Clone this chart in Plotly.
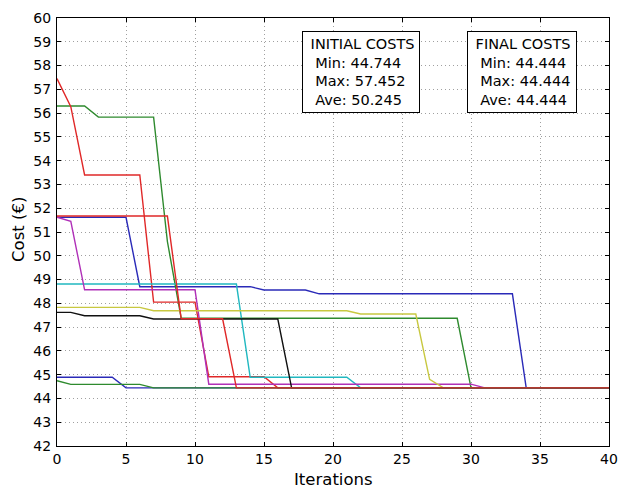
import plotly.graph_objects as go

# Breakpoints of each run's cost curve (iteration, cost)
run1_x = [0, 5, 6, 14, 15, 18, 19, 33, 34, 40]
run1_y = [51.62, 51.62, 48.70, 48.70, 48.56, 48.56, 48.40, 48.40, 44.444, 44.444]
run2_x = [0, 2, 3, 7, 8, 9, 29, 30, 40]
run2_y = [56.30, 56.30, 55.83, 55.83, 50.60, 47.37, 47.37, 44.444, 44.444]
run3_x = [0, 1, 2, 6, 7, 10, 11, 15, 16, 40]
run3_y = [57.452, 56.27, 53.40, 53.40, 48.05, 48.05, 44.91, 44.91, 44.444, 44.444]
run4_x = [0, 13, 14, 21, 22, 40]
run4_y = [48.81, 48.81, 44.89, 44.89, 44.444, 44.444]
run5_x = [0, 1, 2, 10, 11, 30, 31, 40]
run5_y = [51.62, 51.45, 48.57, 48.57, 44.60, 44.60, 44.444, 44.444]
run6_x = [0, 6, 7, 21, 22, 26, 27, 28, 40]
run6_y = [47.83, 47.83, 47.69, 47.69, 47.55, 47.55, 44.80, 44.444, 44.444]
run7_x = [0, 1, 2, 6, 7, 16, 17, 40]
run7_y = [47.62, 47.62, 47.48, 47.48, 47.34, 47.34, 44.444, 44.444]
run8_x = [0, 4, 5, 40]
run8_y = [44.89, 44.89, 44.444, 44.444]
run9_x = [0, 1, 6, 7, 40]
run9_y = [44.744, 44.59, 44.59, 44.444, 44.444]
run10_x = [0, 8, 9, 12, 13, 40]
run10_y = [51.67, 51.67, 47.35, 47.35, 44.444, 44.444]

runs = [(run1_x, run1_y), (run2_x, run2_y), (run3_x, run3_y), (run4_x, run4_y),
        (run5_x, run5_y), (run6_x, run6_y), (run7_x, run7_y), (run8_x, run8_y),
        (run9_x, run9_y), (run10_x, run10_y)]
colors = ["#2a2ab8", "#2e8a2e", "#e02828", "#20b8c0", "#b030b8", "#c8c840",
          "#101010", "#2a2ab8", "#2e8a2e", "#e02828"]

initial_lines = ["INITIAL COSTS", "Min: 44.744", "Max: 57.452", "Ave: 50.245"]
final_lines = ["FINAL COSTS", "Min: 44.444", "Max: 44.444", "Ave: 44.444"]


def box_text(lines):
    return "<br>".join(["&nbsp;" + lines[0]] + ["&nbsp;&nbsp;" + s for s in lines[1:]])


x_ticks = list(range(0, 41, 5))
y_ticks = list(range(42, 61, 1))

fig = go.Figure()
for (xs, ys), c in zip(runs, colors):
    fig.add_trace(go.Scatter(x=xs, y=ys, mode="lines",
                             line=dict(color=c, width=1.4), showlegend=False,
                             hoverinfo="skip"))

FONT = "DejaVu Sans"
fig.add_annotation(x=22.0, y=57.74, xref="x", yref="y", text=box_text(initial_lines),
                   showarrow=False, align="left", width=110, height=74,
                   borderpad=3, bordercolor="black", borderwidth=1,
                   bgcolor="white", font=dict(family=FONT, size=14.5, color="black"))
fig.add_annotation(x=33.67, y=57.74, xref="x", yref="y", text=box_text(final_lines),
                   showarrow=False, align="left", width=102, height=74,
                   borderpad=3, bordercolor="black", borderwidth=1,
                   bgcolor="white", font=dict(family=FONT, size=14.5, color="black"))

# axis titles
fig.add_annotation(x=0.5, y=-0.0794, xref="paper", yref="paper", text="Iterations",
                   showarrow=False, xanchor="center", yanchor="middle",
                   font=dict(family=FONT, size=16.5, color="black"))
fig.add_annotation(x=-0.0707, y=0.507, xref="paper", yref="paper", text="Cost (€)",
                   showarrow=False, xanchor="center", yanchor="middle", textangle=-90,
                   font=dict(family=FONT, size=16.5, color="black"))

axis_common = dict(showline=True, linecolor="black", linewidth=1.2, mirror="allticks",
                   ticks="inside", ticklen=4, tickcolor="black", automargin=False,
                   ticklabeloverflow="allow",
                   showgrid=True, gridcolor="#a0a0a0", griddash="1px,3px", gridwidth=1,
                   zeroline=False, tickfont=dict(family=FONT, size=14, color="black"))

fig.update_xaxes(range=[0, 40], tickvals=x_ticks, **axis_common)
fig.update_yaxes(range=[42, 60], tickvals=y_ticks, ticklabelstandoff=2, **axis_common)

fig.update_layout(width=618, height=489, margin=dict(l=57, r=9, t=18, b=43),
                  plot_bgcolor="white", paper_bgcolor="white",
                  font=dict(family=FONT, color="black"))

# remove the default page margin so the figure fills the window exactly
fig.write_html("out.html", config={"displayModeBar": False},
               post_script="document.body.style.margin='0';document.body.style.overflow='hidden';")
